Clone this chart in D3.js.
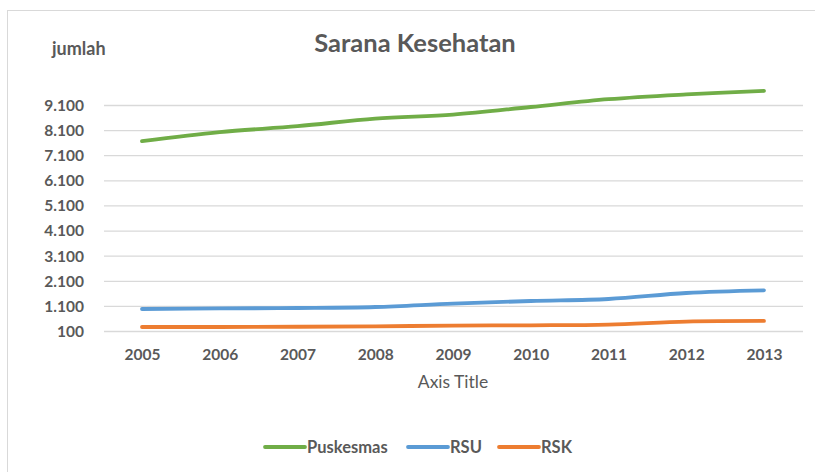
<!DOCTYPE html>
<html><head><meta charset="utf-8">
<script src="https://cdn.jsdelivr.net/npm/d3@7"></script>
<style>body{margin:0;background:#fff}svg{display:block}text{font-family:Lato,"Open Sans",sans-serif}</style>
</head><body><svg id="c" width="815" height="472"></svg>
<script>
const years = ["2005","2006","2007","2008","2009","2010","2011","2012","2013"];
const puskesmas = [7660, 8020, 8255, 8560, 8720, 9020, 9330, 9520, 9660];
const rsu = [976, 1000, 1016, 1056, 1190, 1295, 1375, 1614, 1720];
const rsk = [260, 260, 270, 286, 315, 327, 355, 475, 500];
const yTicks = [100, 1100, 2100, 3100, 4100, 5100, 6100, 7100, 8100, 9100];
const seriesNames = ["Puskesmas", "RSU", "RSK"];
const colors = ["#70AD47", "#5B9BD5", "#ED7D31"];

const svg = d3.select("#c");
svg.append("rect").attr("x",7.5).attr("y",10.5).attr("width",820).attr("height",480)
  .attr("fill","#fff").attr("stroke","#d9d9d9");

const x = d3.scalePoint().domain(years).range([142, 764]);
const y = d3.scaleLinear().domain([100, 9100]).range([331, 105]);

svg.append("g").attr("transform","translate(104,0)")
  .call(d3.axisLeft(y).tickValues(yTicks).tickSize(-699).tickFormat(""))
  .call(g=>g.select(".domain").remove())
  .call(g=>g.selectAll("line").attr("stroke","#d9d9d9").attr("stroke-width",1.3));

const fmt = v => d3.format(",")(v).replace(/,/g,".");
svg.append("g").attr("transform","translate(84,0)")
  .call(d3.axisLeft(y).tickValues(yTicks).tickSize(0).tickPadding(0).tickFormat(fmt))
  .call(g=>g.select(".domain").remove())
  .call(g=>g.selectAll("text").attr("font-family","Lato").attr("font-weight","bold")
    .attr("font-size",15.5).attr("fill","#595959").attr("dy","0.35em"));

svg.append("g").attr("transform","translate(0,345)")
  .call(d3.axisBottom(x).tickSize(0).tickPadding(0))
  .call(g=>g.select(".domain").remove())
  .call(g=>g.selectAll("text").attr("font-family","Lato").attr("font-weight","bold")
    .attr("font-size",15.5).attr("fill","#595959").attr("dy","0").attr("y",15));

const line = d3.line().x((d,i)=>x(years[i])).y(d=>y(d)).curve(d3.curveCatmullRom.alpha(0.5));
[puskesmas, rsu, rsk].forEach((s,i)=>{
  svg.append("path").datum(s).attr("d",line).attr("fill","none")
    .attr("stroke",colors[i]).attr("stroke-width",3.8).attr("stroke-linecap","round");
});

svg.append("text").attr("x",415).attr("y",52).attr("text-anchor","middle")
  .attr("font-weight","bold").attr("font-size",25.5).attr("fill","#595959").text("Sarana Kesehatan");
svg.append("text").attr("x",52).attr("y",55)
  .attr("font-weight","bold").attr("font-size",18).attr("fill","#595959").text("jumlah");
svg.append("text").attr("x",453).attr("y",388).attr("text-anchor","middle")
  .attr("font-size",17.5).attr("fill","#595959").text("Axis Title");

const legX = [265, 408, 499];
seriesNames.forEach((n,i)=>{
  const g = svg.append("g").attr("transform",`translate(${legX[i]},447)`);
  g.append("line").attr("x1",0).attr("x2",40).attr("stroke",colors[i]).attr("stroke-width",3.8).attr("stroke-linecap","round");
  g.append("text").attr("x",42).attr("y",5.5).attr("font-weight","bold").attr("font-size",16.5)
    .attr("fill","#595959").text(n);
});
</script></body></html>
